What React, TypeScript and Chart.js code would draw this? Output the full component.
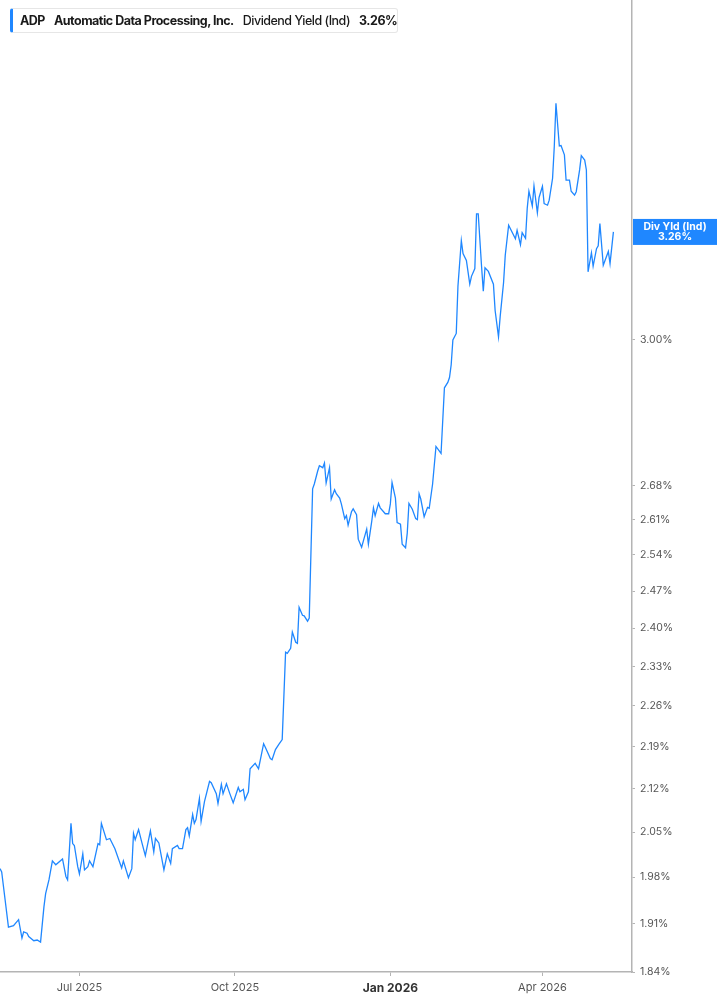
import React, { useEffect, useRef } from "react";
import { Chart, registerables } from "chart.js";

Chart.register(...registerables);

const ticker = "ADP";
const companyName = "Automatic Data Processing, Inc.";
const metricName = "Dividend Yield (Ind)";
const badgeTitle = "Div Yld (Ind)";

const dates = [
  "2025-05-15","2025-05-16","2025-05-18","2025-05-20","2025-05-23","2025-05-26","2025-05-28","2025-05-29","2025-05-31",
  "2025-06-01","2025-06-04","2025-06-06","2025-06-08","2025-06-10","2025-06-11","2025-06-13","2025-06-15","2025-06-17",
  "2025-06-21","2025-06-23","2025-06-24","2025-06-26","2025-06-27","2025-06-28","2025-06-30",
  "2025-07-01","2025-07-03","2025-07-04","2025-07-06","2025-07-07","2025-07-09","2025-07-12","2025-07-13","2025-07-14",
  "2025-07-17","2025-07-19","2025-07-22","2025-07-26","2025-07-27","2025-07-30",
  "2025-08-01","2025-08-02","2025-08-03","2025-08-05","2025-08-07","2025-08-09","2025-08-12","2025-08-14","2025-08-15",
  "2025-08-17","2025-08-20","2025-08-22","2025-08-24","2025-08-25","2025-08-28","2025-08-29","2025-08-31",
  "2025-09-02","2025-09-03","2025-09-04","2025-09-06","2025-09-07","2025-09-08","2025-09-10","2025-09-11","2025-09-13",
  "2025-09-16","2025-09-17","2025-09-20","2025-09-21","2025-09-23","2025-09-24","2025-09-26","2025-09-28","2025-09-30",
  "2025-10-03","2025-10-04","2025-10-06","2025-10-07","2025-10-09","2025-10-10","2025-10-13","2025-10-15","2025-10-18",
  "2025-10-19","2025-10-22","2025-10-23","2025-10-25","2025-10-27","2025-10-29","2025-10-31",
  "2025-11-01","2025-11-03","2025-11-04","2025-11-06","2025-11-07","2025-11-08","2025-11-10","2025-11-11","2025-11-13",
  "2025-11-14","2025-11-16","2025-11-17","2025-11-19","2025-11-20","2025-11-22","2025-11-23","2025-11-24","2025-11-26",
  "2025-11-27","2025-11-29","2025-11-30",
  "2025-12-02","2025-12-03","2025-12-05","2025-12-06","2025-12-07","2025-12-09","2025-12-10","2025-12-12","2025-12-13",
  "2025-12-15","2025-12-16","2025-12-18","2025-12-19","2025-12-21","2025-12-22","2025-12-23","2025-12-25","2025-12-26",
  "2025-12-29","2025-12-31",
  "2026-01-01","2026-01-02","2026-01-04","2026-01-05","2026-01-07","2026-01-08","2026-01-10","2026-01-11","2026-01-12",
  "2026-01-14","2026-01-16","2026-01-17","2026-01-18","2026-01-19","2026-01-21","2026-01-23","2026-01-24","2026-01-26",
  "2026-01-28","2026-01-31",
  "2026-02-02","2026-02-04","2026-02-05","2026-02-06","2026-02-07","2026-02-09","2026-02-10","2026-02-12","2026-02-13",
  "2026-02-15","2026-02-17","2026-02-18","2026-02-20","2026-02-21","2026-02-22","2026-02-24","2026-02-25","2026-02-26",
  "2026-02-28",
  "2026-03-03","2026-03-04","2026-03-06","2026-03-07","2026-03-09","2026-03-10","2026-03-12","2026-03-14","2026-03-16",
  "2026-03-17","2026-03-19","2026-03-20","2026-03-22","2026-03-23","2026-03-24","2026-03-26","2026-03-27","2026-03-29",
  "2026-03-30",
  "2026-04-01","2026-04-02","2026-04-04","2026-04-05","2026-04-07","2026-04-08","2026-04-09","2026-04-11","2026-04-12",
  "2026-04-14","2026-04-15","2026-04-17","2026-04-18","2026-04-20","2026-04-21","2026-04-23","2026-04-24","2026-04-26",
  "2026-04-27","2026-04-28","2026-04-30",
  "2026-05-01","2026-05-03","2026-05-04","2026-05-05","2026-05-07","2026-05-10","2026-05-11","2026-05-13",
];

const yields = [
  1.993,1.988,1.946,1.905,1.907,1.916,1.889,1.898,1.896,
  1.891,1.885,1.886,1.883,1.935,1.955,1.976,2.005,1.999,
  2.008,1.981,1.976,2.064,2.032,2.029,1.996,
  1.985,2.016,1.991,1.996,2.005,1.996,2.032,2.030,2.064,
  2.038,2.040,2.024,1.994,2.005,1.979,
  1.993,2.048,2.038,2.054,2.033,2.013,2.052,2.019,2.040,
  2.033,1.991,2.016,2.001,2.024,2.029,2.024,2.024,
  2.054,2.057,2.044,2.078,2.064,2.070,2.104,2.067,2.099,
  2.132,2.130,2.112,2.096,2.127,2.112,2.128,2.112,2.097,
  2.122,2.115,2.119,2.102,2.115,2.153,2.162,2.153,2.195,
  2.189,2.170,2.168,2.185,2.194,2.202,2.356,
  2.354,2.363,2.393,2.374,2.372,2.439,2.424,2.423,2.413,
  2.419,2.673,2.683,2.710,2.721,2.717,2.727,2.685,2.717,
  2.652,2.671,2.663,
  2.654,2.642,2.612,2.618,2.599,2.626,2.632,2.620,2.571,
  2.555,2.567,2.591,2.561,2.607,2.634,2.618,2.643,2.634,
  2.622,2.622,
  2.642,2.686,2.654,2.604,2.601,2.561,2.554,2.583,2.643,
  2.631,2.612,2.610,2.663,2.652,2.616,2.635,2.633,2.683,
  2.762,2.747,
  2.890,2.902,2.913,2.942,2.999,3.014,3.126,3.238,3.206,
  3.189,3.131,3.150,3.169,3.306,3.306,3.173,3.114,3.171,
  3.162,
  3.131,3.068,3.006,3.054,3.135,3.202,3.277,3.260,3.243,
  3.264,3.228,3.258,3.244,3.320,3.364,3.326,3.378,3.309,
  3.348,
  3.377,3.332,3.328,3.341,3.398,3.482,3.601,3.484,3.485,
  3.460,3.393,3.393,3.364,3.354,3.363,3.420,3.458,3.446,
  3.420,3.161,3.208,
  3.175,3.218,3.225,3.281,3.177,3.211,3.181,3.260,
];

const xTickDates = ["2025-07-01", "2025-10-01", "2026-01-01", "2026-04-01"];
const xTickLabels = ["Jul 2025", "Oct 2025", "Jan 2026", "Apr 2026"];
const boldTickLabel = "Jan 2026";
const yTicks = [1.84, 1.91, 1.98, 2.05, 2.12, 2.19, 2.26, 2.33, 2.4, 2.47, 2.54, 2.61, 2.68, 3.0];
const xRange = ["2025-05-15", "2026-05-24"];
const yRange = [1.84, 3.9];

const BLUE = "#1f87ff";
const AXIS = "#b4b4b4";
const FONT = "Inter, 'Noto Sans', sans-serif";

function toDay(s: string): number {
  const [y, m, d] = s.split("-").map(Number);
  return Date.UTC(y, m - 1, d) / 86400000;
}

const lastValue = yields[yields.length - 1];

export default function App() {
  const ref = useRef<HTMLCanvasElement | null>(null);

  useEffect(() => {
    if (!ref.current) return;
    const points = dates.map((d, i) => ({ x: toDay(d), y: yields[i] }));
    const tickDays = xTickDates.map(toDay);

    const badgePlugin = {
      id: "badge",
      afterDraw(chart: any) {
        const { ctx } = chart;
        const ys = chart.scales.y;
        const area = chart.chartArea;
        const yy = ys.getPixelForValue(lastValue);
        const left = area.right + 1;
        const w = chart.width - left;
        ctx.save();
        ctx.fillStyle = BLUE;
        ctx.fillRect(left, yy - 13, w, 26);
        ctx.fillStyle = "#ffffff";
        ctx.font = `bold 10.5px ${FONT}`;
        ctx.textAlign = "center";
        ctx.textBaseline = "middle";
        ctx.fillText(badgeTitle, left + w / 2, yy - 5.5);
        ctx.fillText(lastValue.toFixed(2) + "%", left + w / 2, yy + 5);
        ctx.restore();
      },
    };

    const chart = new Chart(ref.current, {
      type: "line",
      data: {
        datasets: [
          {
            data: points,
            borderColor: BLUE,
            borderWidth: 1.3,
            pointRadius: 0,
            tension: 0,
            fill: false,
          },
        ],
      },
      options: {
        animation: false,
        responsive: false,
        maintainAspectRatio: false,
        parsing: false,
        layout: { padding: 0 },
        plugins: {
          legend: { display: false },
          tooltip: { enabled: false },
        },
        scales: {
          x: {
            type: "linear",
            position: "bottom",
            min: toDay(xRange[0]),
            max: toDay(xRange[1]),
            afterBuildTicks: (scale: any) => {
              scale.ticks = tickDays.map((v) => ({ value: v }));
            },
            afterFit: (scale: any) => {
              scale.height = 33;
              scale.paddingLeft = 0;
              scale.paddingRight = 0;
              scale.paddingTop = 0;
              scale.paddingBottom = 0;
            },
            grid: {
              display: true,
              drawOnChartArea: false,
              drawTicks: true,
              tickLength: 4,
              color: AXIS,
              lineWidth: 1,
            },
            border: { display: true, color: AXIS, width: 1.5 },
            ticks: {
              autoSkip: false,
              maxRotation: 0,
              padding: 5,
              callback: (v: any) => {
                const i = tickDays.indexOf(Number(v));
                return i >= 0 ? xTickLabels[i] : "";
              },
              color: (ctx: any) => {
                const i = tickDays.indexOf(ctx.tick ? ctx.tick.value : NaN);
                return i >= 0 && xTickLabels[i] === boldTickLabel ? "#333" : "#555";
              },
              font: (ctx: any) => {
                const i = tickDays.indexOf(ctx.tick ? ctx.tick.value : NaN);
                const bold = i >= 0 && xTickLabels[i] === boldTickLabel;
                return { family: FONT, size: bold ? 12 : 11, weight: bold ? "bold" : "normal" };
              },
            },
          },
          y: {
            type: "logarithmic",
            position: "right",
            min: yRange[0],
            max: yRange[1],
            afterBuildTicks: (scale: any) => {
              scale.ticks = yTicks.map((v) => ({ value: v }));
            },
            afterFit: (scale: any) => {
              scale.width = 85;
              scale.paddingTop = 0;
              scale.paddingBottom = 0;
              scale.paddingLeft = 0;
              scale.paddingRight = 0;
            },
            grid: {
              display: true,
              drawOnChartArea: false,
              drawTicks: true,
              tickLength: 3,
              color: AXIS,
              lineWidth: 1,
            },
            border: { display: true, color: AXIS, width: 1.5 },
            ticks: {
              autoSkip: false,
              padding: 5,
              color: "#555",
              font: { family: FONT, size: 10.5 },
              callback: (v: any) => Number(v).toFixed(2) + "%",
            },
          },
        },
      },
      plugins: [badgePlugin],
    } as any);

    return () => chart.destroy();
  }, []);

  return (
    <div style={{ position: "absolute", left: 0, top: 0, width: 717, height: 1005, background: "#fff" }}>
      <canvas ref={ref} width={717} height={1005} style={{ display: "block" }} />
      <div
        style={{
          position: "absolute",
          left: 10,
          top: 8,
          height: 25,
          width: 388,
          boxSizing: "border-box",
          border: "1px solid #e6e6e6",
          borderLeft: `3px solid ${BLUE}`,
          borderRadius: 3,
          background: "#fff",
          display: "flex",
          alignItems: "center",
          gap: 9,
          paddingLeft: 7,
          fontFamily: FONT,
          fontSize: 12.5,
          letterSpacing: "-0.5px",
          color: "#1a1a1a",
          whiteSpace: "nowrap",
        }}
      >
        <span style={{ fontWeight: 700 }}>{ticker}</span>
        <span style={{ fontWeight: 700 }}>{companyName}</span>
        <span style={{ fontWeight: 500 }}>{metricName}</span>
        <span style={{ fontWeight: 700 }}>{lastValue.toFixed(2) + "%"}</span>
      </div>
    </div>
  );
}
